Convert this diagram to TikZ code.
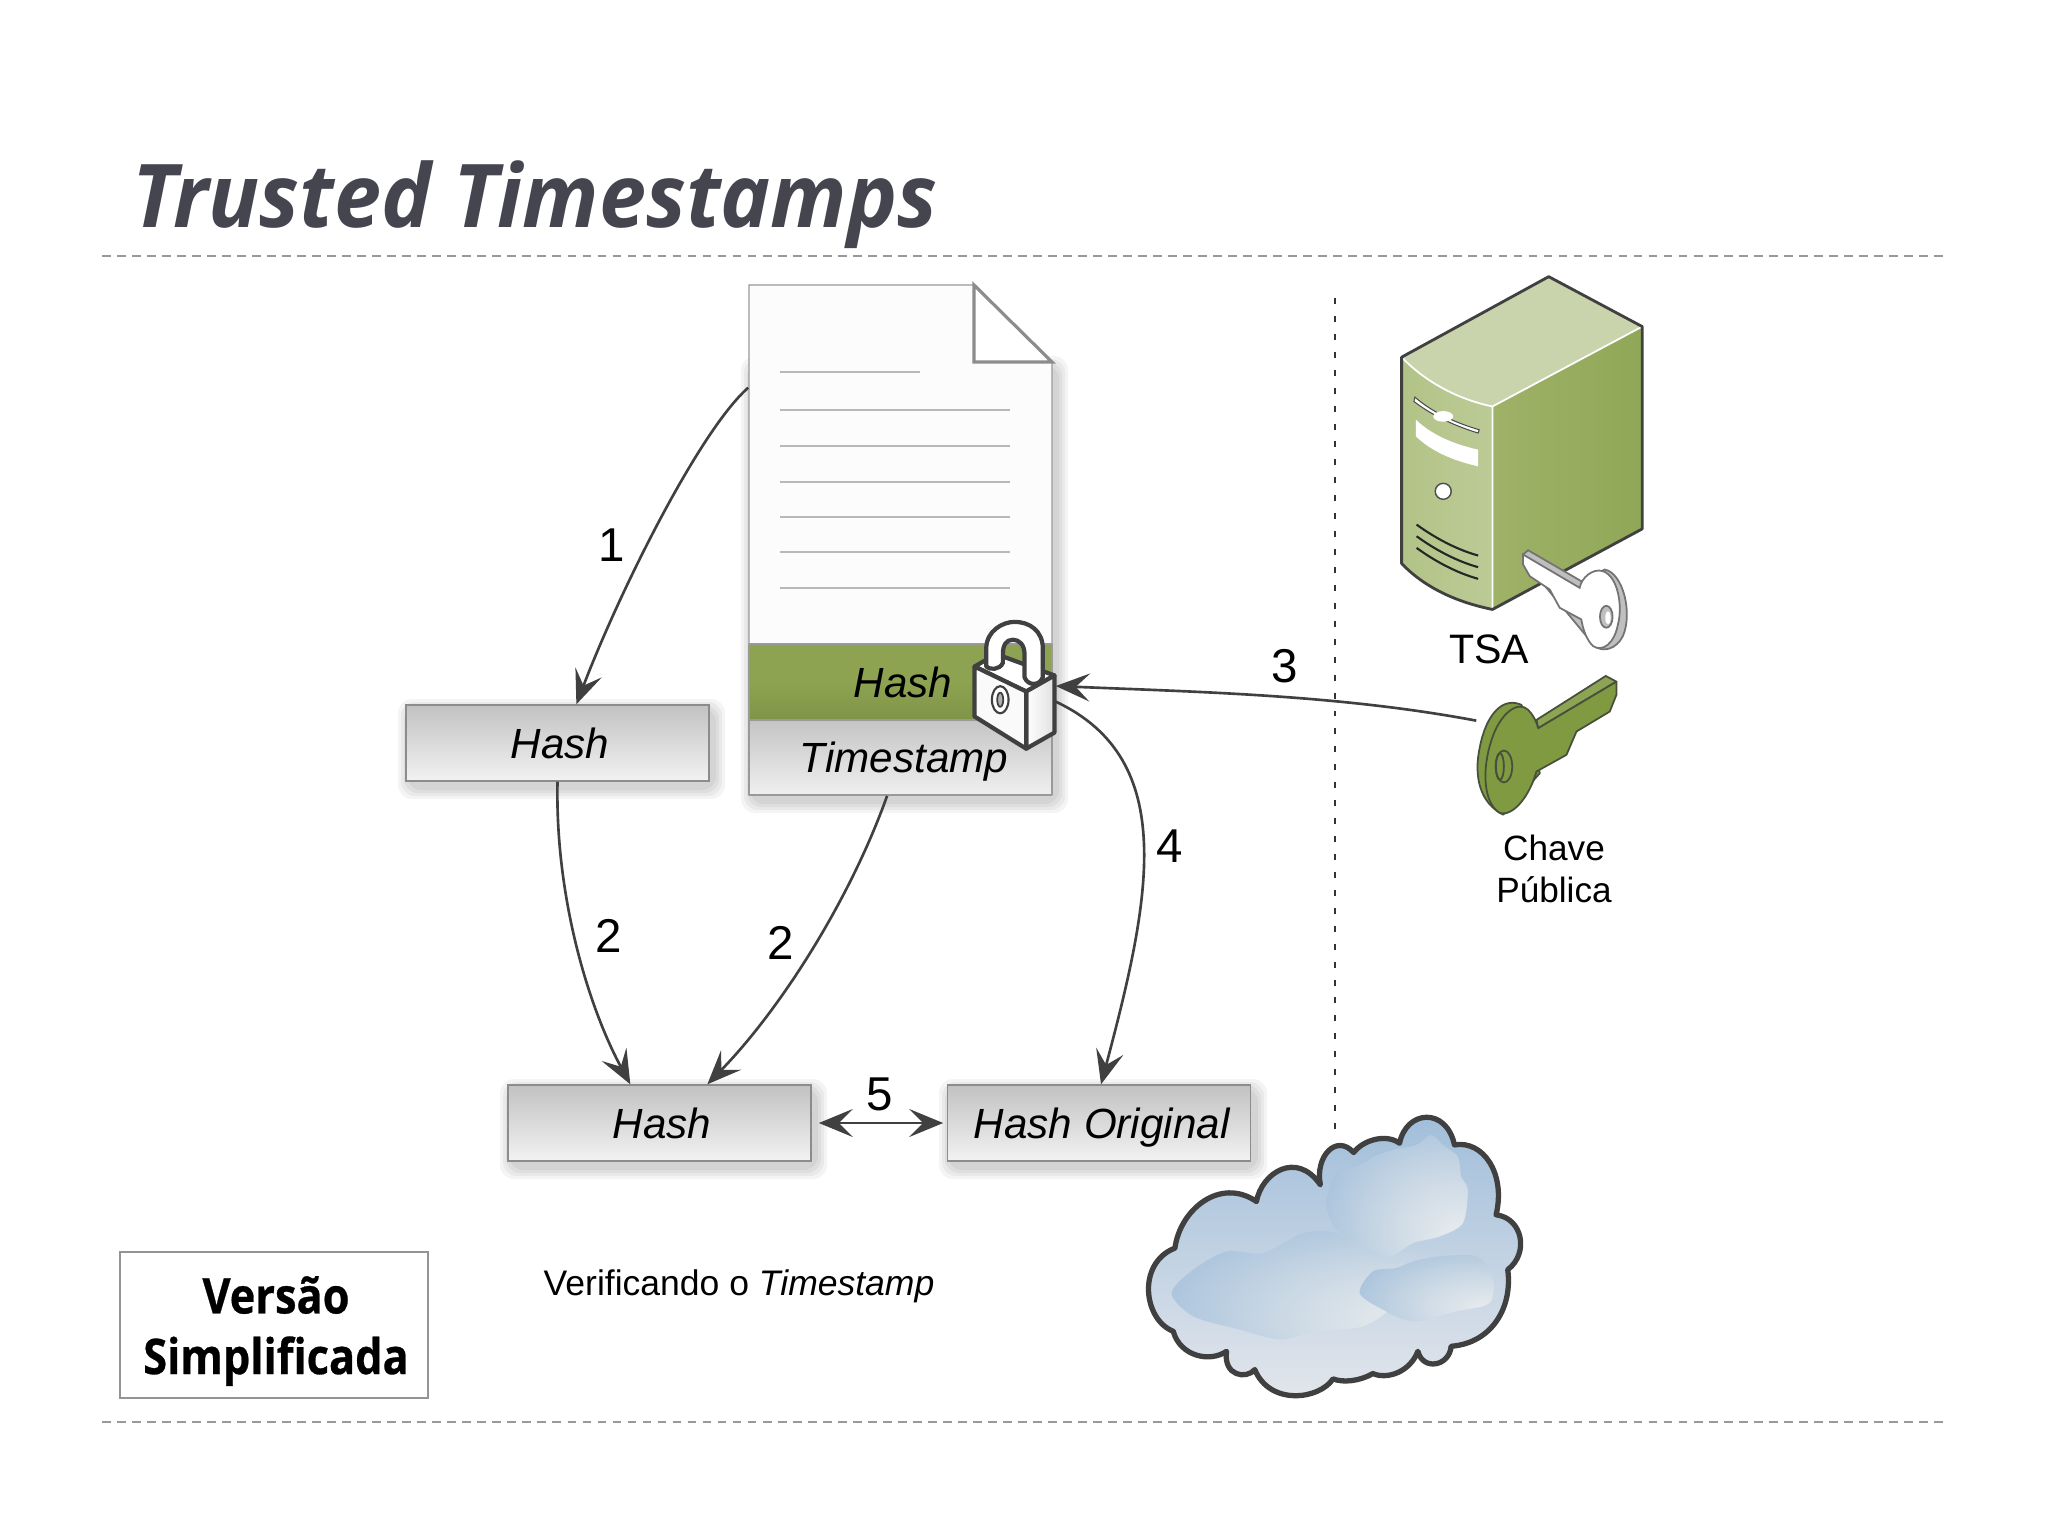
\documentclass[tikz,border=0pt]{standalone}
\usepackage{fontspec}
\setmainfont{Liberation Sans}
\newfontfamily\slidefont{Open Sans}[BoldFeatures={FakeBold=.6}]
\newfontfamily\slidetitle{Open Sans}[BoldFeatures={FakeBold=1.8}]
\usetikzlibrary{arrows.meta}
\definecolor{titleInk}{HTML}{45454F}
\definecolor{lineInk}{HTML}{404040}
\definecolor{bandGreen}{HTML}{8EA351}
\definecolor{bandDark}{HTML}{7E9447}
\definecolor{serverTop}{HTML}{C9D4AD}
\definecolor{serverSide}{HTML}{9FB268}
\definecolor{serverSideB}{HTML}{90A757}
\definecolor{serverFront}{HTML}{B2C387}
\definecolor{serverFrontB}{HTML}{BCCB96}
\definecolor{keyGreen}{HTML}{7F9A41}
\definecolor{keyEdge}{HTML}{46503A}
\definecolor{glowA}{HTML}{EBEEEF}
\definecolor{glowB}{HTML}{C9D7E4}
\definecolor{glowC}{HTML}{9FBDDA}
\definecolor{skyMid}{HTML}{BFD2E3}
\definecolor{skyLow}{HTML}{E4E7EC}
\pgfdeclareradialshading{cloudglow}{\pgfpoint{24bp}{-18bp}}{color(0bp)=(glowA); color(24bp)=(glowB); color(48bp)=(glowC); color(100bp)=(glowC)}
\tikzset{
  hashbox/.style={shape=rectangle,draw=black!45,line width=.4pt,minimum width=3.03cm,minimum height=.76cm,
    top color=black!24,bottom color=black!5,font=\fontsize{12}{14}\selectfont\itshape,text height=8.6pt,text depth=0pt,
    execute at begin node=\hspace*{1.5pt}},
  hotspot/.style={shape=rectangle,inner sep=0pt},
  numlabel/.style={font=\fontsize{13.5}{16}\selectfont},
  arrowline/.style={draw=lineInk,line width=.75pt,-{Stealth[length=3.4mm,width=2.8mm,inset=1.4mm]}},
  rule/.style={draw=black!40,line width=.55pt,dash pattern=on 2.5pt off 1.77pt},
  outline/.style={draw=lineInk,line width=.8pt,line join=round}
}
\begin{document}
\begin{tikzpicture}
[x=.01cm,y=-.01cm,%
  every node/.style={inner sep=0pt}]
\useasboundingbox (0,0) rectangle (2048,1536);
\fill[white] (0,0) rectangle (2048,1536);
%%
\node (title) at (535,227.5) [anchor=base] {\color{titleInk}\scalebox{.96}[1]{\slidetitle\bfseries\itshape\fontsize{25}{30}\selectfont Trusted Timestamps}};
\draw[rule] (102,256) -- (1948,256);
\draw[rule] (102,1422) -- (1948,1422);
\draw[black!80,line width=.6pt,dash pattern=on 1.7pt off 3.4pt] (1335,298) -- (1335,1138);
%% soft shadows
\foreach \leftX/\topY/\rightX/\lowY in {406/705/709/781, 508/1085/811/1161, 947/1085/1251/1161, 749/362/1052/795}
{
  \foreach \spread in {12,9,6,3}
  {
    \fill[black,opacity=.045,rounded corners=4pt] (\leftX+4-\spread,\topY+6-\spread) rectangle (\rightX+4+\spread,\lowY+6+\spread);
  }
}
%% document
\draw[black!40,line width=.4pt,fill=black!1] (749,285) -- (974,285) -- (1052,362) -- (1052,795) -- (749,795) -- cycle;
\shade[top color=black!23,bottom color=black!6] (750,720) rectangle (1052,795);
\shade[top color=bandGreen,bottom color=bandDark,middle color=bandGreen] (750,644) rectangle (1052,720);
\draw[black!40,line width=.4pt] (749,644) -- (1052,644) (749,720) -- (1052,720) (749,795) -- (1052,795) (749,644) -- (749,795) (1052,644) -- (1052,795);
\draw[black!45,line width=.9pt,fill=white] (974,285) -- (974,362) -- (1052,362) -- cycle;
\draw[black!28,line width=.6pt] (780,372) -- (920,372);
\foreach \lineY in {410,446,482,517,552,588}
{
  \draw[black!28,line width=.6pt] (780,\lineY) -- (1010,\lineY);
}
\node (doc) at (900.5,540) [hotspot,minimum width=3.03cm,minimum height=5.1cm] {};
\node (bandhash) at (903,697) [anchor=base,font=\fontsize{12}{14}\selectfont\itshape] {Hash};
\node (bandstamp) at (904,772) [anchor=base,font=\fontsize{12}{14}\selectfont\itshape] {Timestamp};
%% lock
\begin{scope}[shift={(720,270)},x=.003333cm,y=-.00357cm,outline,draw=lineInk,line width=1.2pt]
  \draw[fill=white] (765,1110) -- (830,1075) -- (1005,1135) -- (920,1180) -- cycle;
  \shade[draw,left color=white,right color=black!12] (920,1180) -- (1005,1135) -- (1005,1295) -- (920,1340) -- cycle;
  \draw[fill=black!2] (765,1110) -- (920,1180) -- (920,1340) -- (765,1250) -- cycle;
  \draw[fill=white] (800,1110) -- (800,1060) .. controls (800,1010) and (850,985) .. (885,985)
    .. controls (930,985) and (970,1010) .. (970,1060) -- (970,1140)
    .. controls (960,1165) and (925,1165) .. (915,1140) -- (915,1075)
    .. controls (915,1050) and (900,1035) .. (880,1035)
    .. controls (860,1035) and (850,1050) .. (850,1075) -- (850,1100)
    .. controls (840,1120) and (810,1120) .. (800,1110) -- cycle;
  \draw[line width=.6pt,fill=white] (842,1203) ellipse [x radius=25,y radius=38];
  \draw[line width=.5pt,fill=black!30] (842,1203) ellipse [x radius=9,y radius=20];
\end{scope}
\node (lock) at (1015,686) [hotspot,minimum width=.8cm,minimum height=1.28cm] {};
%% boxes
\node[hashbox] (hashA) at (557.5,743) {Hash};
\node[hashbox] (hashB) at (659.5,1123) {Hash};
\node[hashbox] (hashOrig) at (1099,1123) {Hash Original};
\node (verif) at (739,1286) [font=\fontsize{10.1}{12}\selectfont] {Verificando o \textit{Timestamp}};
\node (versao) at (274,1325) [shape=rectangle,draw=black!42,line width=.5pt,minimum width=3.08cm,minimum height=1.46cm] {};
\node (versaotext) at (276,1331) [align=center,font=\slidefont\bfseries\fontsize{14}{17}\selectfont] {\scalebox{.88}[1]{Versão}\\[.25pt]\scalebox{.88}[1]{Simplificada}};
%% server
\begin{scope}[shift={(1360,260)},x=.003333cm,y=-.003333cm]
  \path[fill=serverTop] (125,292) -- (567,50) -- (848,200) -- (398,440) .. controls (300,420) and (200,370) .. (125,292) -- cycle;
  \path[left color=serverSide,right color=serverSideB] (398,440) -- (848,200) -- (848,808) -- (398,1050) -- cycle;
  \path[left color=serverFront,right color=serverFrontB] (125,292) .. controls (200,370) and (300,420) .. (398,440) -- (398,1050) .. controls (300,1030) and (200,990) .. (125,912) -- cycle;
  \draw[white,line width=.5pt] (125,292) .. controls (200,370) and (300,420) .. (398,440) -- (848,200) (398,440) -- (398,1050);
  \draw[outline] (125,292) -- (567,50) -- (848,200) -- (848,808) -- (398,1050) .. controls (300,1030) and (200,990) .. (125,912) -- cycle;
  \draw[black!70,fill=white,line width=.3pt] (165,412) .. controls (220,460) and (290,490) .. (358,510) -- (355,520) .. controls (290,500) and (220,470) .. (162,425) -- cycle;
  \fill[white] (250,470) ellipse [x radius=30,y radius=16];
  \fill[white] (168,480) .. controls (220,530) and (290,555) .. (355,570) -- (355,620) .. controls (290,605) and (220,580) .. (168,530) -- cycle;
  \draw[black!70,fill=white,line width=.4pt] (250,695) circle [radius=24];
  \foreach \ventY in {795,830,865}
  {
    \draw[black!85,line width=.6pt] (170,\ventY) .. controls (225,\ventY+40) and (290,\ventY+75) .. (355,\ventY+93);
  }
  %% white key
  \draw[black!55,line width=.5pt,fill=black!25] (505,872) -- (670,968) -- (735,930) .. controls (790,940) and (820,1060) .. (790,1130) .. controls (770,1170) and (730,1180) .. (705,1160) -- (490,900) -- (490,885) -- cycle;
  \draw[black!55,line width=.5pt,fill=white] (490,885) -- (660,985) .. controls (665,955) and (700,925) .. (730,935) .. controls (775,950) and (790,1040) .. (775,1095) .. controls (765,1150) and (730,1180) .. (700,1160) .. controls (680,1140) and (670,1110) .. (665,1080) -- (600,1045) -- (570,990) -- (510,950) -- (490,915) -- cycle;
  \draw[black!55,line width=.5pt,fill=black!25] (740,1072) ellipse [x radius=19,y radius=33];
  \fill[white] (745,1075) ellipse [x radius=8,y radius=20];
\end{scope}
\node (tsa) at (1489,649) [font=\fontsize{11.7}{14}\selectfont] {TSA};
%% green key
\begin{scope}[shift={(1440,640)},x=.003333cm,y=-.003333cm,draw=keyEdge,line width=.5pt,line join=round]
  \draw[fill=keyGreen] (245,195) .. controls (190,170) and (140,220) .. (120,320) .. controls (100,410) and (120,490) .. (190,525) -- (300,400) -- cycle;
  \draw[fill=keyGreen!90!white] (290,240) -- (498,108) -- (530,125) -- (295,265) -- cycle;
  \draw[fill=keyGreen] (295,265) -- (530,125) -- (530,165) -- (510,215) -- (410,275) -- (380,345) -- (290,395)
    .. controls (265,480) and (215,530) .. (180,520) .. controls (130,490) and (125,390) .. (155,300)
    .. controls (180,220) and (235,180) .. (265,210) .. controls (280,225) and (290,245) .. (295,265) -- cycle;
  \draw (192,380) ellipse [x radius=25,y radius=48];
  \draw (180,380) ellipse [x radius=12,y radius=40];
\end{scope}
\node (keypub) at (1547,745) [hotspot,minimum width=1.4cm,minimum height=1.4cm] {};
\node (chave) at (1554,869) [align=center,font=\fontsize{10}{12.1}\selectfont] {Chave\\Pública};
%% cloud
\def\cloudedge{(135,475) .. controls (150,360) and (270,260) .. (380,335)
    .. controls (395,250) and (500,180) .. (572,285)
    .. controls (555,200) and (620,130) .. (672,188)
    .. controls (700,150) and (770,130) .. (810,160)
    .. controls (830,60) and (950,50) .. (975,165)
    .. controls (1060,150) and (1130,250) .. (1100,375)
    .. controls (1180,385) and (1200,490) .. (1135,540)
    .. controls (1150,650) and (1090,760) .. (965,770)
    .. controls (960,830) and (880,845) .. (865,785)
    .. controls (840,850) and (770,870) .. (730,852)
    .. controls (690,875) and (640,880) .. (610,868)
    .. controls (570,930) and (420,950) .. (375,840)
    .. controls (350,870) and (280,860) .. (290,785)
    .. controls (240,820) and (150,800) .. (130,725)
    .. controls (40,690) and (20,520) .. (135,475) -- cycle}
\begin{scope}[shift={(1130,1090)},x=.003333cm,y=-.003333cm]
  \shade[top color=glowC,middle color=skyMid,bottom color=skyLow] \cloudedge;
  \shade[shading=cloudglow] plot[smooth cycle] coordinates {(125,610) (190,540) (290,485) (400,490) (520,430) (620,430) (720,490) (830,480) (900,500) (800,640) (700,710) (540,730) (450,750) (330,720) (190,680)};
  \shade[shading=cloudglow] plot[smooth cycle] coordinates {(590,340) (620,250) (680,230) (745,195) (790,180) (860,165) (905,135) (940,165) (985,200) (995,260) (1015,300) (1000,400) (930,440) (850,460) (780,500) (700,470) (620,420)};
  \shade[shading=cloudglow] plot[smooth cycle] coordinates {(690,610) (730,545) (800,535) (850,515) (930,500) (1040,500) (1090,560) (1080,640) (980,665) (850,695) (760,660)};
  \draw[draw=lineInk,line width=1.5pt,line join=round] \cloudedge;
\end{scope}
%% arrows
\draw[arrowline] (doc.135.7) .. controls (700,430) and (620,590) .. (hashA.64);
\draw[arrowline] (hashA.south) .. controls (555,900) and (590,1010) .. (hashB.127.8);
\draw[arrowline] (doc.267.2) .. controls (850,900) and (780,1010) .. (hashB.39.3);
\draw[arrowline] (keypub.161) .. controls (1340,695) and (1200,692) .. (lock.east);
\draw[arrowline] (lock.-21.8) .. controls (1180,760) and (1150,900) .. (hashOrig.87);
\draw[arrowline,{Stealth[length=3.4mm,width=2.8mm,inset=1.4mm]}-{Stealth[length=3.4mm,width=2.8mm,inset=1.4mm]},shorten <=2pt,shorten >=1pt] (hashB.east) -- (hashOrig.west);
%% numbers
\foreach \numName/\numX/\numY/\numText in {one/612/545/1, twoA/609/936/2, twoB/781/943/2, three/1285/666/3, four/1170/846/4, five/880/1094/5}
{
  \node[numlabel] (\numName) at (\numX,\numY) {\numText};
}
\end{tikzpicture}
\end{document}
